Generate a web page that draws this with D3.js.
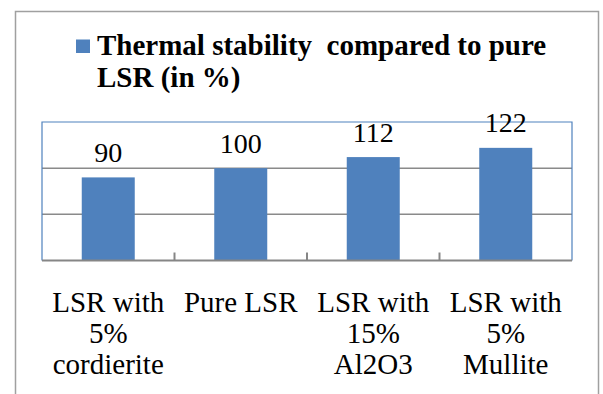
<!DOCTYPE html>
<html>
<head>
<meta charset="utf-8">
<script src="https://cdn.jsdelivr.net/npm/d3@7"></script>
<style>
  body { margin: 0; background: #fff; }
  svg text { font-family: 'Liberation Serif', 'Times New Roman', serif; }
</style>
</head>
<body>
<svg id="chart" width="603" height="394"></svg>
<script>
// chart data
const categories = [
  ['LSR with', '5%', 'cordierite'],
  ['Pure LSR'],
  ['LSR with', '15%', 'Al2O3'],
  ['LSR with', '5%', 'Mullite']
];
const values = [90, 100, 112, 122];
const gridValues = [50, 100, 150];
const seriesName = ['Thermal stability  compared to pure', 'LSR (in %)'];

const svg = d3.select('svg#chart');
const keys = categories.map(c => c.join(' '));

// outer chart frame (bottom is cut off in the picture)
svg.append('rect')
  .attr('x', 15.5).attr('y', 11.5)
  .attr('width', 583).attr('height', 420)
  .attr('fill', '#fff')
  .attr('stroke', '#a0a0a0')
  .attr('stroke-width', 1.5);

// plot area
const plot = { left: 42, right: 572, top: 122, bottom: 260.5 };

const x = d3.scaleBand()
  .domain(keys)
  .range([plot.left, plot.right])
  .paddingInner(0.6)
  .paddingOuter(0.3);

const y = d3.scaleLinear()
  .domain([0, 150])
  .range([plot.bottom, plot.top]);

// gridlines
svg.append('g')
  .selectAll('line')
  .data(gridValues.slice(0, -1))
  .enter()
  .append('line')
  .attr('x1', plot.left).attr('x2', plot.right)
  .attr('y1', d => y(d)).attr('y2', d => y(d))
  .attr('stroke', '#8a8a8a')
  .attr('stroke-width', 1.5);

// plot border (left, top, right)
svg.append('path')
  .attr('d', `M${plot.left},${plot.bottom}V${y(150)}H${plot.right}V${plot.bottom}`)
  .attr('fill', 'none')
  .attr('stroke', '#4f81bd')
  .attr('stroke-width', 1.2);

// bars
svg.append('g')
  .selectAll('rect')
  .data(values)
  .enter()
  .append('rect')
  .attr('x', (d, i) => x(keys[i]))
  .attr('y', d => y(d))
  .attr('width', x.bandwidth())
  .attr('height', d => y(0) - y(d))
  .attr('fill', '#4f81bd');

// category axis line + tick marks between categories
svg.append('line')
  .attr('x1', plot.left).attr('x2', plot.right)
  .attr('y1', y(0)).attr('y2', y(0))
  .attr('stroke', '#868686')
  .attr('stroke-width', 2);

const step = x.step();
svg.append('g')
  .selectAll('line')
  .data(keys.slice(1))
  .enter()
  .append('line')
  .attr('x1', d => x(d) - step * x.paddingInner() / 2)
  .attr('x2', d => x(d) - step * x.paddingInner() / 2)
  .attr('y1', y(0)).attr('y2', y(0) - 8)
  .attr('stroke', '#868686')
  .attr('stroke-width', 2);

// data labels
svg.append('g')
  .selectAll('text')
  .data(values)
  .enter()
  .append('text')
  .attr('x', (d, i) => x(keys[i]) + x.bandwidth() / 2)
  .attr('y', d => y(d) - 15.5)
  .attr('text-anchor', 'middle')
  .attr('font-size', 28)
  .attr('fill', '#000')
  .text(d => d);

// category labels
const catLabels = svg.append('g')
  .selectAll('text')
  .data(categories)
  .enter()
  .append('text')
  .attr('text-anchor', 'middle')
  .attr('font-size', 29)
  .attr('fill', '#000');

catLabels.selectAll('tspan')
  .data((d, i) => d.map(line => ({ line, key: keys[i] })))
  .enter()
  .append('tspan')
  .attr('x', d => x(d.key) + x.bandwidth() / 2)
  .attr('y', (d, j) => 312 + j * 31)
  .text(d => d.line);

// legend at top
svg.append('rect')
  .attr('x', 76).attr('y', 39.5)
  .attr('width', 14).attr('height', 13.5)
  .attr('fill', '#4f81bd');

svg.append('text')
  .attr('font-size', 29)
  .attr('font-weight', 'bold')
  .attr('fill', '#000')
  .style('white-space', 'pre')
  .selectAll('tspan')
  .data(seriesName)
  .enter()
  .append('tspan')
  .attr('x', 97)
  .attr('y', (d, i) => 54.5 + i * 32.5)
  .text(d => d);
</script>
</body>
</html>
